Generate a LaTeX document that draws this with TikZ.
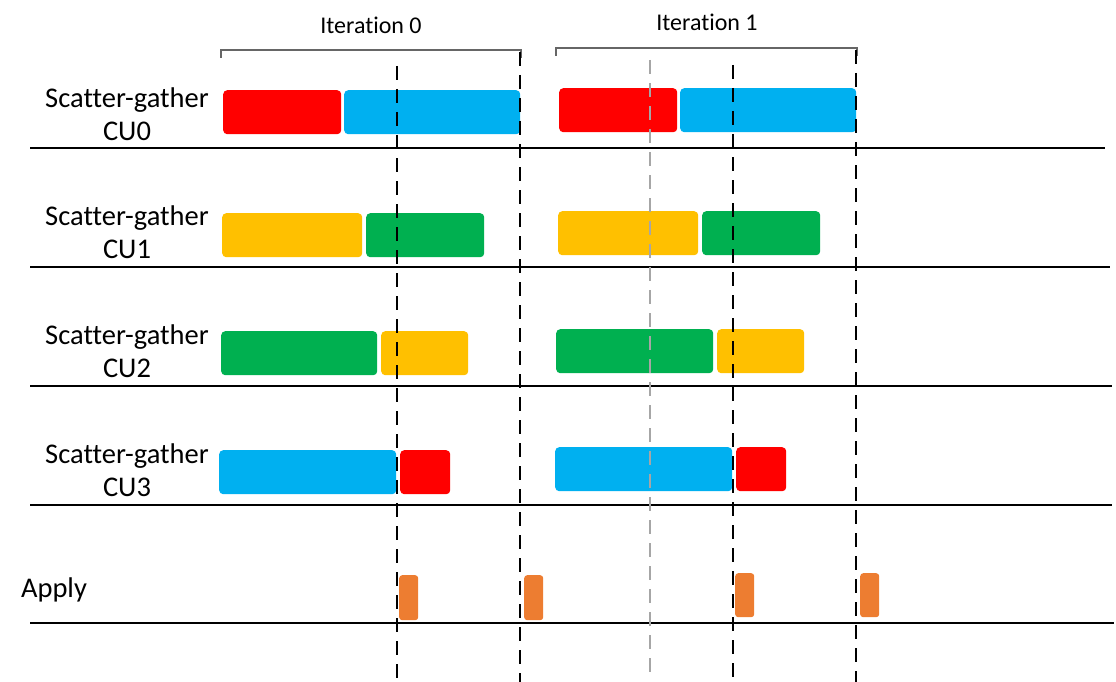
\documentclass[tikz,border=0pt]{standalone}
\usepackage{fontspec}
\setmainfont[Ligatures={NoCommon}]{Carlito}
\begin{document}
\begin{tikzpicture}[x=1pt,y=-1pt,
  bx/.style={draw=none,rounded corners=4pt,inner sep=0pt,anchor=north west},
  lbl/.style={align=center,font=\fontsize{28.5}{33}\selectfont},
  itl/.style={font=\fontsize{24}{26}\selectfont},
  row/.style={line width=1.5pt,black},
  vd/.style={line width=1.9pt,black,dash pattern=on 14pt off 9pt},
  vg/.style={line width=1.5pt,black!35,dash pattern=on 14pt off 9pt},
  brk/.style={line width=1.2pt,black!60}]
\definecolor{cred}{HTML}{FF0000}
\definecolor{cblue}{HTML}{00B0F0}
\definecolor{cyel}{HTML}{FFC000}
\definecolor{cgreen}{HTML}{00B050}
\definecolor{corange}{HTML}{ED7D31}
\useasboundingbox (0,0) rectangle (1116,682);

% row lines
\foreach \n/\y/\xe in {a/148/1105,b/267/1110,c/386/1112,d/505/1112,e/623/1114}{
  \coordinate (\n1) at (30,\y); \coordinate (\n2) at (\xe,\y);
  \draw[row] (\n1) -- (\n2);
}

% labels
\node[lbl] (l0) at (127,114) {Scatter-gather\\CU0};
\node[lbl] (l1) at (127,232) {Scatter-gather\\CU1};
\node[lbl] (l2) at (127,351) {Scatter-gather\\CU2};
\node[lbl] (l3) at (127,470) {Scatter-gather\\CU3};
\node[lbl] (la) at (54,590) {Apply};
\node[itl] (i0) at (371,25) {Iteration 0};
\node[itl] (i1) at (707,22) {Iteration 1};

% brackets
\coordinate (b0a) at (221,58); \coordinate (b0b) at (221,50);
\coordinate (b0c) at (521,50); \coordinate (b0d) at (521,58);
\draw[brk] (b0a) -- (b0b) -- (b0c) -- (b0d);
\coordinate (b1a) at (556,56); \coordinate (b1b) at (556,48);
\coordinate (b1c) at (857,48); \coordinate (b1d) at (857,56);
\draw[brk] (b1a) -- (b1b) -- (b1c) -- (b1d);

% iteration 0 bars
\node[bx,fill=cred,minimum width=118,minimum height=44] (r00) at (223,90) {};
\node[bx,fill=cblue,minimum width=176,minimum height=44] (b00) at (344,90) {};
\node[bx,fill=cyel,minimum width=140,minimum height=44] (y01) at (222,213) {};
\node[bx,fill=cgreen,minimum width=118,minimum height=44] (g01) at (366,213) {};
\node[bx,fill=cgreen,minimum width=156,minimum height=44] (g02) at (221,331) {};
\node[bx,fill=cyel,minimum width=87,minimum height=44] (y02) at (381,331) {};
\node[bx,fill=cblue,minimum width=177,minimum height=44] (b03) at (219,450) {};
\node[bx,fill=cred,minimum width=50,minimum height=44] (r03) at (400,450) {};

% iteration 1 bars
\node[bx,fill=cred,minimum width=118,minimum height=44] (r10) at (559,88) {};
\node[bx,fill=cblue,minimum width=176,minimum height=44] (b10) at (680,88) {};
\node[bx,fill=cyel,minimum width=140,minimum height=44] (y11) at (558,211) {};
\node[bx,fill=cgreen,minimum width=118,minimum height=44] (g11) at (702,211) {};
\node[bx,fill=cgreen,minimum width=157,minimum height=44] (g12) at (556,329) {};
\node[bx,fill=cyel,minimum width=87,minimum height=44] (y12) at (717,329) {};
\node[bx,fill=cblue,minimum width=177,minimum height=44] (b13) at (555,447) {};
\node[bx,fill=cred,minimum width=50,minimum height=44] (r13) at (736,447) {};

% apply bars
\node[bx,fill=corange,rounded corners=3pt,minimum width=19,minimum height=45] (a0) at (399,575) {};
\node[bx,fill=corange,rounded corners=3pt,minimum width=19,minimum height=45] (a1) at (524,575) {};
\node[bx,fill=corange,rounded corners=3pt,minimum width=19,minimum height=44] (a2) at (735,573) {};
\node[bx,fill=corange,rounded corners=3pt,minimum width=19,minimum height=44] (a3) at (860,573) {};

% dashed verticals
\coordinate (v0t) at (397,66); \coordinate (v0b) at (397,682);
\coordinate (v1t) at (520,52); \coordinate (v1b) at (520,682);
\coordinate (vgt) at (650,60); \coordinate (vgb) at (650,675);
\coordinate (v2t) at (733,65); \coordinate (v2b) at (733,682);
\coordinate (v3t) at (856,50); \coordinate (v3b) at (856,682);
\draw[vd] (v0t) -- (v0b);
\draw[vd] (v1t) -- (v1b);
\draw[vg] (vgt) -- (vgb);
\draw[vd] (v2t) -- (v2b);
\draw[vd] (v3t) -- (v3b);
\end{tikzpicture}
\end{document}
